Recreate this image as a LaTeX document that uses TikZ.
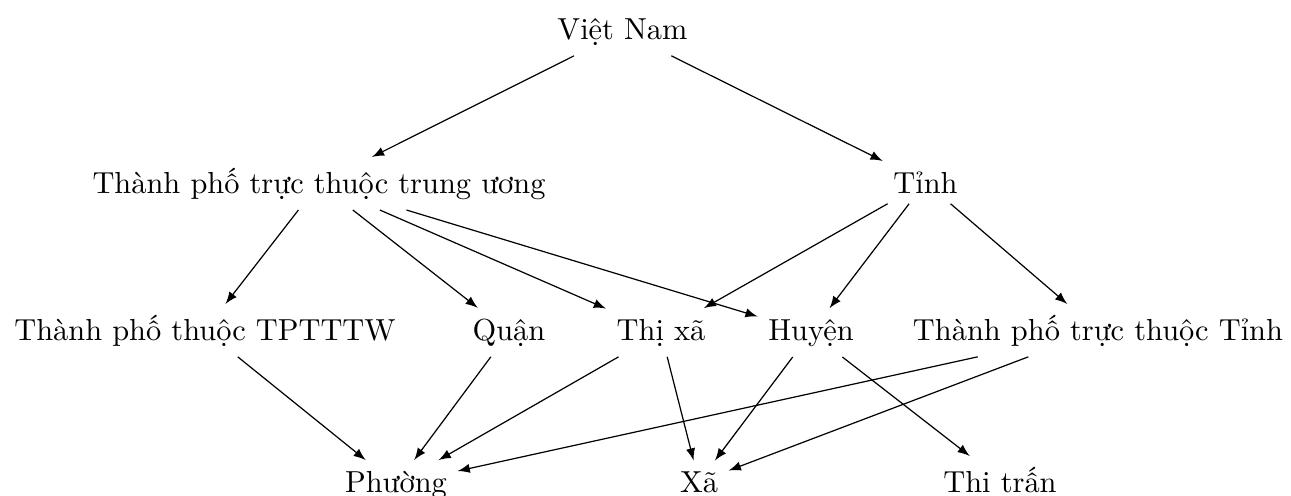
\documentclass[tikz,border=0pt]{standalone}
\usepackage{fontspec}
\begin{document}
\begin{tikzpicture}[x=0.3289pt, y=-0.3289pt,
  unit/.style={anchor=base},
  link/.style={-latex, line width=0.4pt}]
\useasboundingbox (0,0) rectangle (1291,495);

% levels of administration
\node[unit] (viet)    at (622.5,39) {Việt Nam};
\node[unit] (tw)      at (319,193)  {Thành phố trực thuộc trung ương};
\node[unit] (tinh)    at (925.5,193){Tỉnh};
\node[unit] (tptw)    at (205,340)  {Thành phố thuộc TPTTTW};
\node[unit] (quan)    at (509,340)  {Quận};
\node[unit] (thixa)   at (661,340)  {Thị xã};
\node[unit] (huyen)   at (811,340)  {Huyện};
\node[unit] (tptinh)  at (1098,340) {Thành phố trực thuộc Tỉnh};
\node[unit] (phuong)  at (396,492)  {Phường};
\node[unit] (xa)      at (699,492)  {Xã};
\node[unit] (thitran) at (1000,492) {Thi trấn};

% subordination
\draw[link] (viet) -- (tw);
\draw[link] (viet) -- (tinh);
\draw[link] (tw) -- (tptw);
\draw[link] (tw) -- (quan);
\draw[link] (tw) -- (thixa);
\draw[link] (tw) -- (huyen);
\draw[link] (tinh) -- (thixa);
\draw[link] (tinh) -- (huyen);
\draw[link] (tinh) -- (tptinh);
\draw[link] (tptw) -- (phuong);
\draw[link] (quan) -- (phuong);
\draw[link] (thixa) -- (phuong);
\draw[link] (thixa) -- (xa);
\draw[link] (huyen) -- (xa);
\draw[link] (huyen) -- (thitran);
\draw[link] (tptinh) -- (phuong);
\draw[link] (tptinh) -- (xa);
\end{tikzpicture}
\end{document}
